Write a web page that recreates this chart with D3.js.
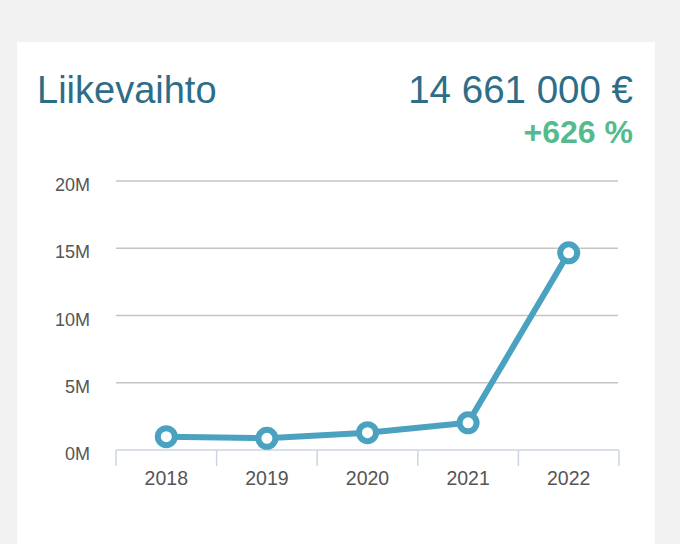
<!DOCTYPE html>
<html>
<head>
<meta charset="utf-8">
<script src="https://cdn.jsdelivr.net/npm/d3@7"></script>
<style>
  html, body { margin: 0; padding: 0; background: #f2f2f2; }
  svg { display: block; }
</style>
</head>
<body>
<svg id="chart" width="680" height="544"></svg>
<script>
const title = "Liikevaihto";
const totalLabel = "14 661 000 €";
const changeLabel = "+626 %";
const years = ["2018", "2019", "2020", "2021", "2022"];
const revenue = [990000, 870000, 1290000, 2019000, 14661000];
const yTicks = [0, 5000000, 10000000, 15000000, 20000000];
const yTickLabels = ["0M", "5M", "10M", "15M", "20M"];

const svg = d3.select("#chart");
const font = "'Liberation Sans', Arial, Helvetica, sans-serif";

svg.append("rect").attr("x", 17).attr("y", 42).attr("width", 638).attr("height", 510).attr("fill", "#ffffff");

svg.append("text").attr("x", 37).attr("y", 103).attr("font-family", font).attr("font-size", 38)
  .attr("fill", "#2e6d88").text(title);
svg.append("text").attr("x", 633).attr("y", 103).attr("text-anchor", "end").attr("font-family", font)
  .attr("font-size", 38.5).attr("fill", "#2e6d88").text(totalLabel);
svg.append("text").attr("x", 633).attr("y", 143).attr("text-anchor", "end").attr("font-family", font)
  .attr("font-size", 32).attr("font-weight", "bold").attr("fill", "#55bb8f").text(changeLabel);

const x = d3.scaleBand().domain(years).range([116, 619]);
const y = d3.scaleLinear().domain([0, 20000000]).range([450, 181]);

// gridlines
svg.append("g").selectAll("line").data(yTicks.slice(1)).join("line")
  .attr("x1", 116).attr("x2", 618)
  .attr("y1", d => y(d)).attr("y2", d => y(d))
  .attr("stroke", "#c4c4c4").attr("stroke-width", 1.5);

// y labels
svg.append("g").selectAll("text").data(yTicks).join("text")
  .attr("x", 90).attr("y", d => y(d) + 10).attr("text-anchor", "end")
  .attr("font-family", font).attr("font-size", 18).attr("fill", "#555555")
  .text((d, i) => yTickLabels[i]);

// x axis
const xAxis = svg.append("g").attr("transform", "translate(0,450)");
xAxis.append("line").attr("x1", 116).attr("x2", 619).attr("stroke", "#ccd6e2").attr("stroke-width", 1.5);
const edges = years.map(d => x(d)).concat([x.range()[1]]);
xAxis.selectAll("line.tick").data(edges).join("line").attr("class", "tick")
  .attr("x1", d => d).attr("x2", d => d).attr("y1", 0).attr("y2", 16)
  .attr("stroke", "#ccd6e2").attr("stroke-width", 1.5);
xAxis.selectAll("text").data(years).join("text")
  .attr("x", d => x(d) + x.bandwidth() / 2).attr("y", 35).attr("text-anchor", "middle")
  .attr("font-family", font).attr("font-size", 19.5).attr("fill", "#555555").text(d => d);

// line
const data = years.map((d, i) => ({ year: d, value: revenue[i] }));
const line = d3.line().x(d => x(d.year) + x.bandwidth() / 2).y(d => y(d.value));
svg.append("path").datum(data).attr("d", line).attr("fill", "none")
  .attr("stroke", "#4aa2c0").attr("stroke-width", 6).attr("stroke-linejoin", "round");

svg.append("g").selectAll("circle").data(data).join("circle")
  .attr("cx", d => x(d.year) + x.bandwidth() / 2).attr("cy", d => y(d.value))
  .attr("r", 8.5).attr("fill", "#ffffff").attr("stroke", "#4aa2c0").attr("stroke-width", 6);
</script>
</body>
</html>
